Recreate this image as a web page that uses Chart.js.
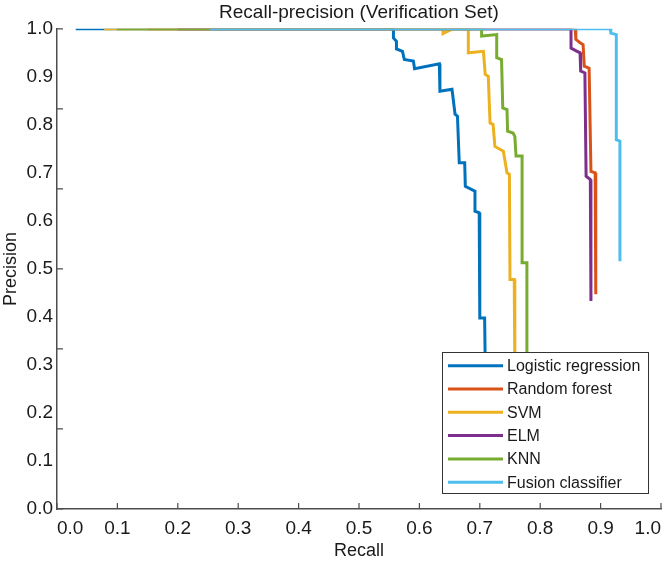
<!DOCTYPE html>
<html>
<head>
<meta charset="utf-8">
<title>Recall-precision (Verification Set)</title>
<script src="https://cdn.jsdelivr.net/npm/chart.js@4.4.1/dist/chart.umd.min.js"></script>
<style>
  html, body { margin: 0; padding: 0; background: #fff; }
  #wrap { width: 666px; height: 565px; }
</style>
</head>
<body>
<div id="wrap"><canvas id="myChart" width="666" height="565"></canvas></div>
<script>
// PR curves (recall, precision pairs)
const seriesNames  = ['Logistic regression', 'Random forest', 'SVM', 'ELM', 'KNN', 'Fusion classifier'];
const seriesColors = ['#0072BD', '#D95319', '#EDB120', '#7E2F8E', '#77AC30', '#4DBEEE'];

const lrRecall     = [0.031, 0.557, 0.557, 0.562, 0.562, 0.572, 0.575, 0.590, 0.592, 0.633, 0.634, 0.654, 0.659, 0.663, 0.666, 0.675, 0.676, 0.692, 0.692, 0.699, 0.700, 0.708, 0.709];
const lrPrecision  = [1.0, 1.0, 0.981, 0.974, 0.958, 0.953, 0.936, 0.933, 0.917, 0.927, 0.870, 0.874, 0.822, 0.818, 0.721, 0.721, 0.672, 0.662, 0.620, 0.617, 0.398, 0.398, 0.30];

const rfRecall     = [0.15, 0.858, 0.859, 0.866, 0.871, 0.873, 0.881, 0.884, 0.891, 0.892];
const rfPrecision  = [1.0, 1.0, 0.978, 0.971, 0.967, 0.922, 0.918, 0.703, 0.700, 0.447];

const svmRecall    = [0.078, 0.639, 0.639, 0.655, 0.681, 0.681, 0.706, 0.709, 0.714, 0.717, 0.722, 0.725, 0.739, 0.745, 0.749, 0.750, 0.757, 0.758];
const svmPrecision = [1.0, 1.0, 0.990, 1.0, 1.0, 0.950, 0.953, 0.905, 0.901, 0.804, 0.801, 0.755, 0.745, 0.700, 0.697, 0.478, 0.478, 0.30];

const elmRecall    = [0.20, 0.851, 0.851, 0.858, 0.866, 0.867, 0.874, 0.876, 0.883, 0.884];
const elmPrecision = [1.0, 1.0, 0.960, 0.955, 0.950, 0.912, 0.908, 0.693, 0.686, 0.433];

const knnRecall    = [0.099, 0.703, 0.703, 0.728, 0.728, 0.736, 0.738, 0.745, 0.746, 0.755, 0.758, 0.760, 0.770, 0.770, 0.778, 0.778];
const knnPrecision = [1.0, 1.0, 0.985, 0.988, 0.940, 0.936, 0.835, 0.832, 0.787, 0.783, 0.776, 0.735, 0.735, 0.513, 0.513, 0.30];

const fusRecall    = [0.253, 0.916, 0.917, 0.926, 0.926, 0.932, 0.932];
const fusPrecision = [1.0, 1.0, 0.991, 0.988, 0.769, 0.766, 0.516];

const axisTicks  = [0, 0.1, 0.2, 0.3, 0.4, 0.5, 0.6, 0.7, 0.8, 0.9, 1.0];
// the little marks on the y axis sit every sixth of the range, not at the labels
const yTickMarks = [0, 0.1667, 0.3333, 0.5, 0.6667, 0.8333, 1.0];

const FONT = "'Liberation Sans', Arial, Helvetica, sans-serif";
const AXIS_COLOR = '#4d4d4d';
Chart.defaults.font.family = FONT;
Chart.defaults.color = '#1a1a1a';

const curves = [
  [lrRecall, lrPrecision],
  [rfRecall, rfPrecision],
  [svmRecall, svmPrecision],
  [elmRecall, elmPrecision],
  [knnRecall, knnPrecision],
  [fusRecall, fusPrecision]
];

function toPoints(rs, ps) {
  return rs.map((r, i) => ({ x: r, y: ps[i] }));
}

// matlab draws later series on top; chart.js draws lowest order last
const datasets = curves.map((c, i) => ({
  label: seriesNames[i],
  data: toPoints(c[0], c[1]),
  borderColor: seriesColors[i],
  backgroundColor: seriesColors[i],
  borderWidth: 3,
  pointRadius: 0,
  tension: 0,
  fill: false,
  order: curves.length - i
}));

// small ticks pointing into the plot
const innerTicks = {
  id: 'innerTicks',
  beforeDatasetsDraw(chart) {
    const { ctx, chartArea: a, scales: { x, y } } = chart;
    ctx.save();
    ctx.strokeStyle = AXIS_COLOR;
    ctx.lineWidth = 1.2;
    ctx.beginPath();
    axisTicks.forEach(v => {
      const px = x.getPixelForValue(v);
      ctx.moveTo(px, a.bottom);
      ctx.lineTo(px, a.bottom - 6);
    });
    yTickMarks.forEach(v => {
      const py = y.getPixelForValue(v);
      ctx.moveTo(a.left, py);
      ctx.lineTo(a.left + 6, py);
    });
    ctx.stroke();
    ctx.restore();
  }
};

// boxed legend in the lower right, over the curves
const boxLegend = {
  id: 'boxLegend',
  afterDatasetsDraw(chart) {
    const { ctx, chartArea: a } = chart;
    const w = 206, h = 141;
    const x0 = Math.round(a.right - 13 - w);
    const y0 = Math.round(a.bottom - 157);
    ctx.save();
    ctx.fillStyle = '#fff';
    ctx.fillRect(x0, y0, w, h);
    ctx.strokeStyle = '#333';
    ctx.lineWidth = 1;
    ctx.strokeRect(x0 + 0.5, y0 + 0.5, w, h);
    ctx.font = '16px ' + FONT;
    ctx.textBaseline = 'middle';
    ctx.textAlign = 'left';
    seriesNames.forEach((name, i) => {
      const ry = y0 + 13.7 + i * 23.3;
      ctx.strokeStyle = seriesColors[i];
      ctx.lineWidth = 3;
      ctx.beginPath();
      ctx.moveTo(x0 + 6, ry);
      ctx.lineTo(x0 + 61, ry);
      ctx.stroke();
      ctx.fillStyle = '#1a1a1a';
      ctx.fillText(name, x0 + 65, ry + 1);
    });
    ctx.restore();
  }
};

const ctx = document.getElementById('myChart').getContext('2d');
const chart = new Chart(ctx, {
  type: 'line',
  data: { datasets },
  options: {
    responsive: false,
    animation: false,
    layout: { padding: { top: 0, left: 0, right: 5, bottom: 0 } },
    plugins: {
      legend: { display: false },
      tooltip: { enabled: false },
      title: {
        display: true,
        text: 'Recall-precision (Verification Set)',
        fullSize: false,
        color: '#1a1a1a',
        font: { size: 19, weight: 'normal' },
        padding: { top: 1, bottom: 5 }
      }
    },
    scales: {
      x: {
        type: 'linear',
        min: 0,
        max: 1,
        afterBuildTicks: s => { s.ticks = axisTicks.map(v => ({ value: v })); },
        ticks: {
          align: 'inner',
          padding: 8,
          maxRotation: 0,
          autoSkip: false,
          font: { size: 19 },
          callback: v => v.toFixed(1)
        },
        grid: { display: false, drawTicks: false },
        border: { display: true, color: AXIS_COLOR, width: 1.5 },
        title: { display: true, text: 'Recall', font: { size: 18 }, padding: { top: 0, bottom: 3 } },
        afterFit: s => { s.height = 56; s.paddingLeft = 0; s.paddingRight = 0; }
      },
      y: {
        type: 'linear',
        min: 0,
        max: 1,
        afterBuildTicks: s => { s.ticks = axisTicks.map(v => ({ value: v })); },
        ticks: {
          padding: 4,
          font: { size: 19 },
          callback: v => v.toFixed(1)
        },
        grid: { display: false, drawTicks: false },
        border: { display: true, color: AXIS_COLOR, width: 1.5 },
        title: { display: true, text: 'Precision', font: { size: 18 }, padding: { top: 0, bottom: 0 } },
        afterFit: s => { s.width = 57; }
      }
    }
  },
  plugins: [innerTicks, boxLegend]
});
</script>
</body>
</html>
